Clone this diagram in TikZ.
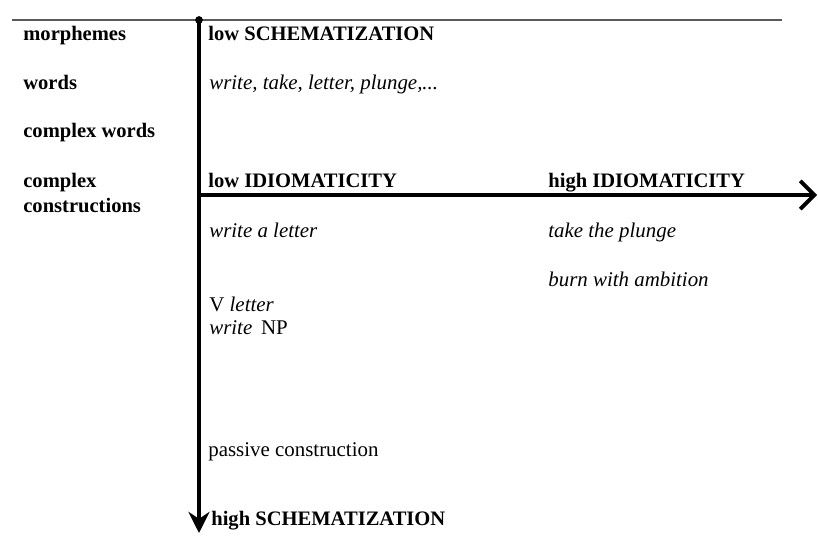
\documentclass[tikz,border=0pt]{standalone}
\usepackage{fontspec}
\setmainfont{Liberation Serif}
\usetikzlibrary{arrows.meta,positioning}
\tikzstyle{level} = [anchor=base west, inner sep=0pt, font=\fontsize{11.7}{14}\selectfont\bfseries]
\tikzstyle{entry} = [anchor=base west, inner sep=0pt, font=\fontsize{11.9}{14}\selectfont]
\tikzstyle{axis} = [draw, line width=2.2pt]
\tikzstyle{rule} = [draw, black!65, line width=0.9pt]

\begin{document}
\begin{tikzpicture}[x=0.02cm, y=-0.02cm]
        \useasboundingbox (0,0) rectangle (818,536);
        % Axis points
        \coordinate (top) at (199,20);
        \coordinate (bottom) at (199,533);
        \coordinate (origin) at (199,195);
        \coordinate (far) at (817,195);
        \coordinate (rulestart) at (12,20);
        \coordinate (ruleend) at (782,20);
        % Place nodes
        \node [level] (morph) at (23,41) {morphemes};
        \node [level] (words) at (23,90) {words};
        \node [level] (cwords) at (23,138) {complex words};
        \node [level] (cplx) at (23,188) {complex};
        \node [level] (cconstr) at (23,213) {constructions};
        \node [level] (lowschem) at (208,41) {low SCHEMATIZATION};
        \node [entry] (wordlist) at (209,90) {\textit{write, take, letter, plunge,...}};
        \node [level] (lowidiom) at (208,188) {low IDIOMATICITY};
        \node [level] (highidiom) at (548,188) {high IDIOMATICITY};
        \node [entry] (writeletter) at (209,238) {\textit{write a letter}};
        \node [entry] (takeplunge) at (548,238) {\textit{take the plunge}};
        \node [entry] (burnamb) at (548,287) {\textit{burn with ambition}};
        \node [entry] (vletter) at (209,312) {V \textit{letter}};
        \node [entry] (writenp) at (209,335) {\textit{write}\, NP};
        \node [entry] (passive) at (208,457) {passive construction};
        \node [level] (highschem) at (211,525) {high SCHEMATIZATION};
        % Draw edges
        \path [rule] (rulestart) -- (ruleend);
        \path [axis, -{Stealth[length=12pt, width=12pt]}] (top) -- (bottom);
        \path [axis, -{Straight Barb[length=8pt, width=16pt]}] (origin) -- (far);
        \fill (top) circle (2.2pt);
    \end{tikzpicture}
\end{document}
